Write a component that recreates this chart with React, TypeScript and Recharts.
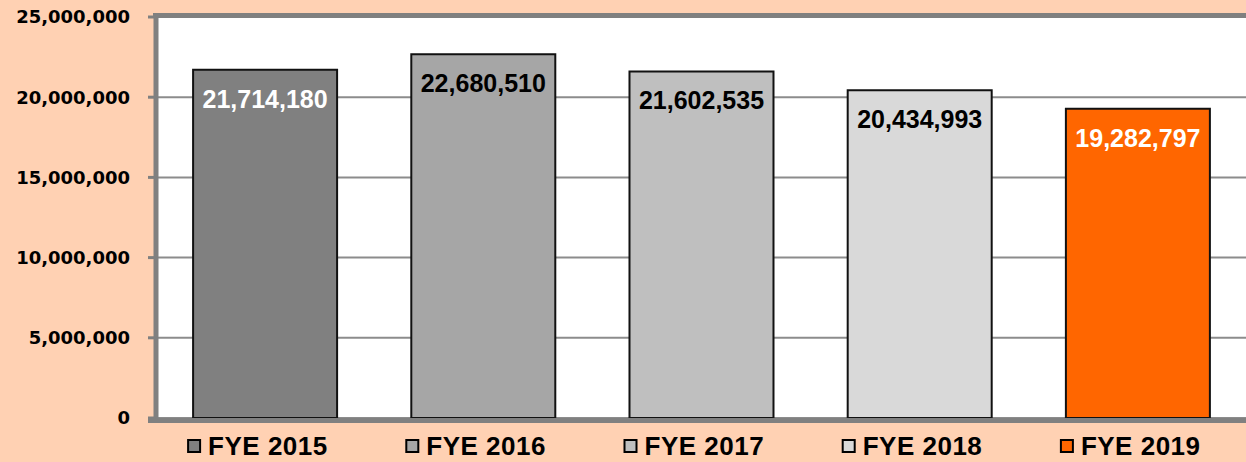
import React from "react";
import { BarChart, Bar, XAxis, YAxis, CartesianGrid, Cell, LabelList, ReferenceLine } from "recharts";

const categories = ["FYE 2015", "FYE 2016", "FYE 2017", "FYE 2018", "FYE 2019"];
const values = [21714180, 22680510, 21602535, 20434993, 19282797];
const barColors = ["#808080", "#A6A6A6", "#BFBFBF", "#D9D9D9", "#FF6600"];
const labelColors = ["#FFFFFF", "#000000", "#000000", "#000000", "#FFFFFF"];
const yTicks = [0, 5000000, 10000000, 15000000, 20000000, 25000000];

const data = categories.map((name, i) => ({ name, value: values[i] }));

const WALL = "#808080";
const BG = "#FFD1B3";
const fmt = (v: number) => v.toLocaleString("en-US");

const LegendTick = (props: any) => {
  const { x, y, payload, index } = props;
  const start = x - 77;
  return (
    <g>
      <rect x={start} y={y + 22} width={12} height={12} fill={barColors[index]} stroke="#000" strokeWidth={2} />
      <text
        x={start + 20}
        y={y + 37}
        fill="#000"
        fontFamily="'Liberation Sans', Arial, sans-serif"
        fontWeight="bold"
        fontSize={26}
        letterSpacing={0.5}
      >
        {payload.value}
      </text>
    </g>
  );
};

const BarLabel = (props: any) => {
  const { x, y, width, index, value } = props;
  return (
    <text
      x={x + width / 2}
      y={y + 29}
      textAnchor="middle"
      dominantBaseline="central"
      fill={labelColors[index]}
      fontFamily="'Liberation Sans', Arial, sans-serif"
      fontWeight="bold"
      fontSize={25}
    >
      {fmt(value)}
    </text>
  );
};

const TopWall = (props: any) => {
  const { x1, y1, x2 } = props;
  return <rect x={x1 - 3} y={y1 - 4} width={x2 - x1 + 6} height={5} fill={WALL} />;
};
const BottomWall = (props: any) => {
  const { x1, y1, x2 } = props;
  return <rect x={x1 - 8} y={y1} width={x2 - x1 + 11} height={5} fill={WALL} />;
};

export default function App() {
  return (
    <div style={{ position: "absolute", left: 0, top: 0, width: 1246, height: 462, overflow: "hidden", background: BG }}>
      <BarChart
        width={1250}
        height={462}
        data={data}
        margin={{ top: 17, right: 3, bottom: 0, left: 6 }}
        barCategoryGap="17%"
        style={{ background: BG }}
      >
        <CartesianGrid vertical={false} stroke="#8C8C8C" strokeWidth={2} fill="#FFFFFF" />
        <YAxis
          width={150}
          domain={[0, 25000000]}
          ticks={yTicks}
          tickFormatter={fmt}
          axisLine={{ stroke: WALL, strokeWidth: 5 }}
          tickLine={{ stroke: WALL, strokeWidth: 3 }}
          tickSize={8}
          tickMargin={18}
          tick={{ fill: "#000", fontFamily: "'DejaVu Sans', Verdana, sans-serif", fontWeight: "bold", fontSize: 18 }}
          interval={0}
        />
        <XAxis
          dataKey="name"
          height={44}
          axisLine={false}
          tickLine={false}
          tickSize={0}
          tickMargin={0}
          interval={0}
          tick={<LegendTick />}
        />
        <ReferenceLine y={25000000} shape={<TopWall />} />
        <ReferenceLine y={0} shape={<BottomWall />} />
        <Bar dataKey="value" isAnimationActive={false} stroke="#111" strokeWidth={2}>
          {data.map((d, i) => (
            <Cell key={d.name} fill={barColors[i]} />
          ))}
          <LabelList dataKey="value" content={<BarLabel />} />
        </Bar>
      </BarChart>
    </div>
  );
}
